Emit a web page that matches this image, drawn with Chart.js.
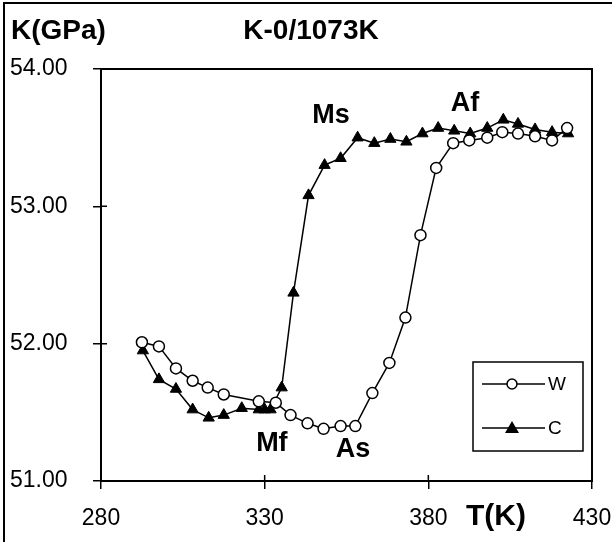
<!DOCTYPE html>
<html>
<head>
<meta charset="utf-8">
<script src="https://cdn.jsdelivr.net/npm/chart.js@4"></script>
<style>
  html, body { margin: 0; padding: 0; background: #fff; }
  #wrap { position: relative; width: 612px; height: 542px; }
</style>
</head>
<body>
<div id="wrap"><canvas id="myChart" width="612" height="542"></canvas></div>
<script>
// W: heating (open circles), C: cooling (filled triangles)
const tempW = [292.5, 297.7, 302.9, 308.0, 312.6, 317.5, 328.2, 333.4, 337.9, 343.1, 348.0, 353.2, 357.7,
  362.9, 368.1, 373.0, 377.6, 382.4, 387.6, 392.5, 398.0, 402.6, 407.4, 412.6, 417.8, 422.4];
const modW = [52.01, 51.98, 51.82, 51.73, 51.68, 51.63, 51.58, 51.57, 51.48, 51.42, 51.38, 51.40, 51.40,
  51.64, 51.86, 52.19, 52.79, 53.28, 53.46, 53.48, 53.50, 53.54, 53.53, 53.51, 53.48, 53.57];

const tempC = [292.8, 297.7, 302.9, 308.0, 312.9, 317.5, 323.0, 328.2, 330.0, 331.8, 335.2, 338.8, 343.4,
  348.3, 353.2, 358.4, 363.5, 368.4, 373.3, 378.2, 383.0, 387.9, 392.8, 398.0, 402.9, 407.4, 412.6, 417.8, 422.7];
const modC = [51.95, 51.74, 51.67, 51.52, 51.46, 51.48, 51.53, 51.52, 51.52, 51.52, 51.68, 52.37, 53.08,
  53.30, 53.35, 53.50, 53.46, 53.49, 53.47, 53.53, 53.57, 53.55, 53.53, 53.57, 53.63, 53.60, 53.56, 53.54, 53.53];

const xTicks = [280, 330, 380, 430];
const yTicks = [51, 52, 53, 54];

// point labels (text, T, K)
const notes = [
  ['Ms', 350.3, 53.66],
  ['Af', 391.2, 53.75],
  ['Mf', 332.2, 51.27],
  ['As', 357.0, 51.23]
];

const FONT = '"Liberation Sans", Arial, sans-serif';

function toPoints(xs, ys) {
  return xs.map((x, i) => ({ x: x, y: ys[i] }));
}

const decor = {
  id: 'decor',
  afterDraw(chart) {
    const ctx = chart.ctx;
    const a = chart.chartArea;
    const xs = chart.scales.x, ys = chart.scales.y;
    ctx.save();
    // outer frame (top + left)
    ctx.strokeStyle = '#000';
    ctx.lineWidth = 2;
    ctx.beginPath();
    ctx.moveTo(4, 542); ctx.lineTo(4, 3); ctx.lineTo(612, 3);
    ctx.stroke();
    // plot frame
    ctx.strokeRect(a.left, a.top, a.right - a.left, a.bottom - a.top);
    // inner half of tick marks
    ctx.lineWidth = 1.5;
    ctx.beginPath();
    yTicks.forEach(v => { const y = ys.getPixelForValue(v); ctx.moveTo(a.left, y); ctx.lineTo(a.left + 6, y); });
    xTicks.forEach(v => { const x = xs.getPixelForValue(v); ctx.moveTo(x, a.bottom); ctx.lineTo(x, a.bottom - 6); });
    ctx.stroke();

    ctx.fillStyle = '#000';
    ctx.textBaseline = 'middle';
    ctx.font = 'bold 28px ' + FONT;
    ctx.textAlign = 'left';
    ctx.fillText('K(GPa)', 11, 31);
    ctx.textAlign = 'center';
    ctx.fillText('K-0/1073K', 311, 31);
    ctx.font = 'bold 27px ' + FONT;
    notes.forEach(n => {
      ctx.fillText(n[0], xs.getPixelForValue(n[1]), ys.getPixelForValue(n[2]));
    });
    ctx.font = 'bold 30px ' + FONT;
    ctx.fillText('T(K)', 496, 517);

    // legend box
    const lx = 473, ly = 362, lw = 110, lh = 89;
    ctx.lineWidth = 1.5;
    ctx.strokeRect(lx, ly, lw, lh);
    ctx.font = '19px ' + FONT;
    ctx.textAlign = 'left';
    const rows = [[ly + 22, 'W', 'circle'], [ly + 66, 'C', 'triangle']];
    rows.forEach(r => {
      ctx.beginPath();
      ctx.moveTo(lx + 9, r[0]); ctx.lineTo(lx + 72, r[0]);
      ctx.stroke();
      if (r[2] === 'circle') {
        ctx.beginPath();
        ctx.arc(lx + 39, r[0], 5, 0, Math.PI * 2);
        ctx.fillStyle = '#fff'; ctx.fill(); ctx.stroke();
      } else {
        ctx.beginPath();
        ctx.moveTo(lx + 39, r[0] - 7); ctx.lineTo(lx + 46, r[0] + 5); ctx.lineTo(lx + 32, r[0] + 5);
        ctx.closePath();
        ctx.fillStyle = '#000'; ctx.fill();
      }
      ctx.fillStyle = '#000';
      ctx.fillText(r[1], lx + 75, r[0] + 1);
    });
    ctx.restore();
  }
};

new Chart(document.getElementById('myChart'), {
  type: 'scatter',
  data: {
    datasets: [
      {
        label: 'W',
        data: toPoints(tempW, modW),
        showLine: true,
        borderColor: '#000',
        borderWidth: 1.5,
        pointStyle: 'circle',
        pointRadius: 5.5,
        pointBackgroundColor: '#fff',
        pointBorderColor: '#000',
        pointBorderWidth: 1.5
      },
      {
        label: 'C',
        data: toPoints(tempC, modC),
        showLine: true,
        borderColor: '#000',
        borderWidth: 1.5,
        pointStyle: 'triangle',
        pointRadius: 6.5,
        pointBackgroundColor: '#000',
        pointBorderColor: '#000',
        pointBorderWidth: 1
      }
    ]
  },
  options: {
    responsive: false,
    animation: false,
    layout: { padding: { left: 10, right: 20, top: 69, bottom: 10 } },
    plugins: { legend: { display: false }, tooltip: { enabled: false } },
    scales: {
      x: {
        type: 'linear',
        min: 280, max: 430,
        afterBuildTicks: s => { s.ticks = xTicks.map(v => ({ value: v })); },
        afterFit: s => { s.height = 51; s.paddingLeft = 0; s.paddingRight = 0; },
        border: { color: '#000', width: 2 },
        grid: { drawOnChartArea: false, color: '#000', lineWidth: 1.5, tickLength: 8 },
        ticks: { color: '#000', font: { family: FONT, size: 23 }, padding: 16, maxRotation: 0 }
      },
      y: {
        type: 'linear',
        min: 51, max: 54,
        afterBuildTicks: s => { s.ticks = yTicks.map(v => ({ value: v })); },
        afterFit: s => { s.width = 91; s.paddingTop = 0; s.paddingBottom = 0; },
        border: { color: '#000', width: 2 },
        grid: { drawOnChartArea: false, color: '#000', lineWidth: 1.5, tickLength: 8 },
        ticks: {
          color: '#000', font: { family: FONT, size: 23 }, crossAlign: 'far',
          callback: v => v.toFixed(2)
        }
      }
    }
  },
  plugins: [decor]
});
</script>
</body>
</html>
